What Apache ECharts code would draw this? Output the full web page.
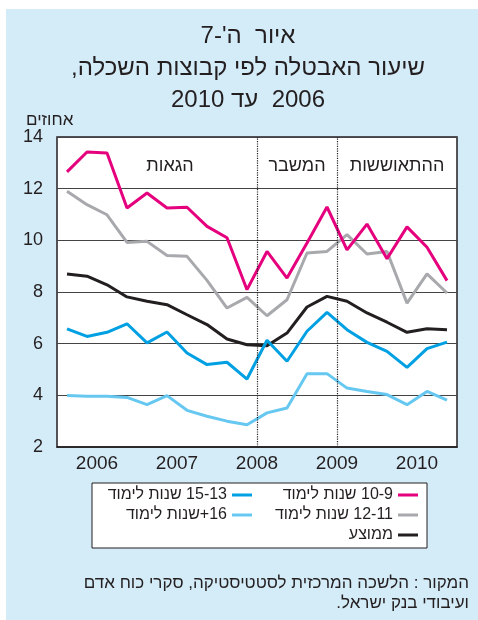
<!DOCTYPE html>
<html>
<head>
<meta charset="utf-8">
<script src="https://cdn.jsdelivr.net/npm/echarts@6/dist/echarts.min.js"></script>
<style>
  html, body { margin: 0; padding: 0; background: #fff; }
  #chart { width: 478px; height: 620px; direction: rtl; }
</style>
</head>
<body>
<div id="chart"></div>
<script>
// quarters 2006-2010
const quarters = [
  '2006Q1', '2006Q2', '2006Q3', '2006Q4',
  '2007Q1', '2007Q2', '2007Q3', '2007Q4',
  '2008Q1', '2008Q2', '2008Q3', '2008Q4',
  '2009Q1', '2009Q2', '2009Q3', '2009Q4',
  '2010Q1', '2010Q2', '2010Q3', '2010Q4'
]
const years = ['2006', '2007', '2008', '2009', '2010']

// unemployment rate, percent
const edu9to10 = [12.65, 13.42, 13.38, 11.25, 11.83, 11.25, 11.28, 10.54, 10.10, 8.09, 9.57, 8.54, 9.9, 11.29, 9.63, 10.63, 9.29, 10.52, 9.73, 8.44]
const edu11to12 = [11.9, 11.38, 10.99, 9.92, 9.96, 9.41, 9.38, 8.45, 7.38, 7.79, 7.08, 7.70, 9.51, 9.57, 10.22, 9.47, 9.57, 7.57, 8.70, 7.96]
const edu13to15 = [6.57, 6.28, 6.44, 6.77, 6.03, 6.45, 5.64, 5.19, 5.28, 4.63, 6.13, 5.32, 6.48, 7.21, 6.54, 6.05, 5.70, 5.08, 5.81, 6.06]
const edu16plus = [3.99, 3.96, 3.96, 3.92, 3.64, 3.99, 3.42, 3.19, 3.0, 2.86, 3.32, 3.51, 4.84, 4.84, 4.28, 4.15, 4.03, 3.64, 4.15, 3.81]
const average = [8.70, 8.61, 8.28, 7.81, 7.64, 7.51, 7.12, 6.74, 6.18, 5.96, 5.92, 6.41, 7.42, 7.83, 7.64, 7.19, 6.83, 6.44, 6.58, 6.54]

// periods, boundaries counted in quarters from 2006Q1
const periodNames = ['הגאות', 'המשבר', 'ההתאוששות']
const periodBounds = [0, 10, 14, 20]

const names = {
  e910: '10-9 שנות לימוד',
  e1112: '12-11 שנות לימוד',
  e1315: '15-13 שנות לימוד',
  e16: '16+שנות לימוד',
  avg: 'ממוצע'
}

const font = "'Liberation Sans', 'DejaVu Sans', sans-serif"
const ink = '#231f20'
const bg = '#d4ebf8'

const chart = echarts.init(document.getElementById('chart'))

function lineSeries(name, data, color) {
  return {
    name: name,
    type: 'line',
    data: data,
    symbol: 'none',
    lineStyle: { color: color, width: 3 },
    itemStyle: { color: color },
    z: 3
  }
}

const periodAreas = periodNames.map((n, i) => [
  // the first label sits a bit right of its span's centre
  { xAxis: periodBounds[i], name: n, label: { offset: [i === 0 ? 13 : 0, 0] } },
  { xAxis: periodBounds[i + 1] }
])

chart.setOption({
  backgroundColor: '#fff',
  animation: false,
  textStyle: { fontFamily: font, color: ink },
  graphic: [
    {
      type: 'rect',
      z: -100,
      silent: true,
      shape: { x: 6, y: 9, width: 472, height: 611 },
      style: { fill: bg }
    },
    {
      type: 'rect',
      z: 1,
      silent: true,
      shape: { x: 92, y: 483, width: 335, height: 65 },
      style: { fill: '#fff', stroke: ink, lineWidth: 1 }
    }
  ],
  title: [
    {
      text: 'איור  ה\'-7\nשיעור האבטלה לפי קבוצות השכלה,\n2006  עד 2010',
      left: 243,
      top: 15,
      textAlign: 'center',
      textStyle: { fontFamily: font, fontSize: 24, fontWeight: 'normal', color: ink, lineHeight: 32 }
    },
    {
      text: 'אחוזים',
      left: 21,
      top: 107,
      textStyle: { fontFamily: font, fontSize: 17, fontWeight: 'normal', color: ink }
    },
    {
      text: 'המקור : הלשכה המרכזית לסטטיסטיקה, סקרי כוח אדם\nועיבודי בנק ישראל.',
      left: 464,
      top: 568,
      textAlign: 'right',
      textStyle: { fontFamily: font, fontSize: 17, fontWeight: 'normal', color: ink, lineHeight: 20 }
    }
  ],
  legend: [
    {
      data: [names.e910, names.e1112, names.avg],
      orient: 'vertical',
      align: 'right',
      right: 60,
      top: 487,
      padding: 0,
      itemGap: 4,
      itemWidth: 20,
      itemHeight: 3,
      icon: 'rect',
      z: 5,
      textStyle: { fontFamily: font, fontSize: 16, color: ink }
    },
    {
      data: [names.e1315, names.e16],
      orient: 'vertical',
      align: 'right',
      right: 226,
      top: 487,
      padding: 0,
      itemGap: 4,
      itemWidth: 20,
      itemHeight: 3,
      icon: 'rect',
      z: 5,
      textStyle: { fontFamily: font, fontSize: 16, color: ink }
    }
  ],
  grid: {
    left: 57,
    right: 21,
    top: 137,
    bottom: 173,
    show: true,
    backgroundColor: '#fff',
    borderColor: ink,
    borderWidth: 1.5
  },
  xAxis: [
    {
      type: 'category',
      data: quarters,
      boundaryGap: true,
      axisLine: { lineStyle: { color: ink, width: 1.5 } },
      axisTick: { inside: true, length: 8, interval: 0, lineStyle: { color: ink, width: 1 } },
      axisLabel: { show: false },
      splitLine: { show: false }
    },
    {
      type: 'category',
      data: years,
      position: 'bottom',
      boundaryGap: true,
      axisLine: { show: false },
      axisTick: { inside: true, length: 17, lineStyle: { color: ink, width: 1 } },
      axisLabel: { fontFamily: font, fontSize: 19, color: ink, margin: 7 },
      splitLine: { show: false }
    },
    {
      type: 'value',
      min: 0,
      max: 20,
      show: false
    }
  ],
  yAxis: {
    type: 'value',
    min: 2,
    max: 14,
    interval: 2,
    axisLine: { show: false },
    axisTick: { show: false },
    axisLabel: { fontFamily: font, fontSize: 18, color: ink, margin: 14 },
    splitLine: { lineStyle: { color: '#444', width: 1 } }
  },
  series: [
    {
      name: 'periods',
      type: 'line',
      xAxisIndex: 2,
      data: [],
      silent: true,
      markLine: {
        symbol: 'none',
        silent: true,
        label: { show: false },
        lineStyle: { color: ink, type: 'dotted', width: 1.2 },
        data: [{ xAxis: periodBounds[1] }, { xAxis: periodBounds[2] }]
      },
      markArea: {
        silent: true,
        itemStyle: { color: 'rgba(0,0,0,0)' },
        label: {
          show: true,
          position: 'insideTop',
          distance: 20,
          fontFamily: font,
          fontSize: 18,
          color: ink
        },
        data: periodAreas
      }
    },
    lineSeries(names.e1112, edu11to12, '#a7a9ac'),
    lineSeries(names.e910, edu9to10, '#e5007d'),
    lineSeries(names.avg, average, ink),
    lineSeries(names.e16, edu16plus, '#66c8f0'),
    lineSeries(names.e1315, edu13to15, '#00a0e3')
  ]
})
</script>
</body>
</html>
